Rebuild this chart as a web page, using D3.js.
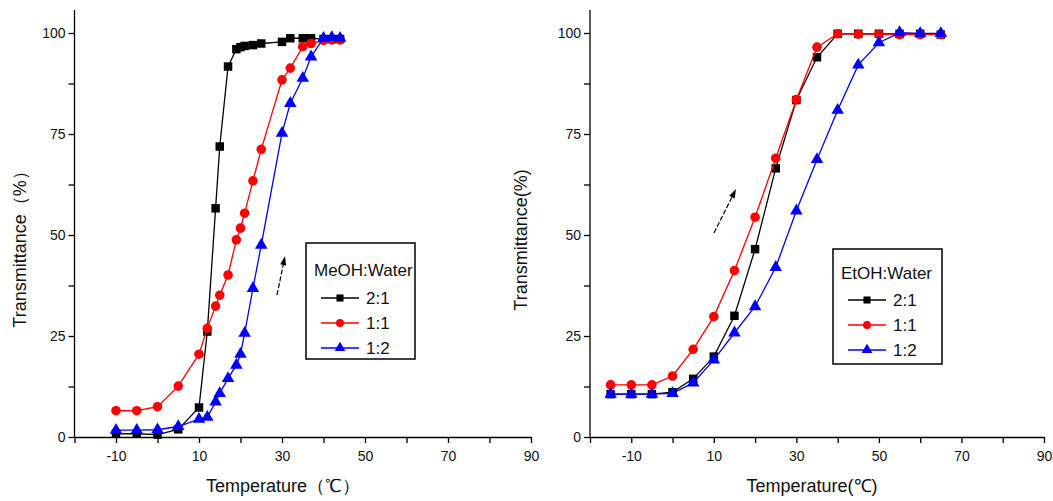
<!DOCTYPE html>
<html>
<head>
<meta charset="utf-8" />
<title>Transmittance vs Temperature</title>
<script src="https://cdn.jsdelivr.net/npm/d3@7"></script>
<style>
	body { margin: 0; background: #fff; }
	svg { display: block; font-family: 'Liberation Sans', Arial, sans-serif; }
	.tick text { font-family: 'Liberation Sans Narrow', 'Liberation Sans', Arial, sans-serif; font-size: 14px; fill: #111; }
	.domain, .tick line { stroke: #000; stroke-width: 1.3px; }
</style>
</head>
<body>
<script>
// left panel: MeOH:Water
var meohTemp = [-10, -5, 0, 5, 10, 12, 14, 15, 17, 19, 20, 21, 23, 25, 30, 32, 35, 37, 40, 42, 44];
var meoh21 = [0.8, 0.8, 0.6, 1.9, 7.3, 26.1, 56.6, 71.9, 91.7, 96.0, 96.5, 96.8, 97.0, 97.4, 97.8, 98.7, 98.7, 98.7, 98.5, 98.5, 98.5];
var meoh11 = [6.5, 6.5, 7.5, 12.6, 20.5, 26.9, 32.4, 35.1, 40.1, 48.8, 51.7, 55.4, 63.4, 71.2, 88.4, 91.3, 96.6, 97.4, 98.2, 98.3, 98.3];
var meoh12 = [1.7, 1.7, 1.8, 2.6, 4.4, 4.9, 8.7, 10.8, 14.5, 17.8, 20.5, 25.7, 36.8, 47.5, 75.2, 82.6, 88.8, 94.1, 98.7, 98.9, 98.7];

// right panel: EtOH:Water
var etohTemp = [-15, -10, -5, 0, 5, 10, 15, 20, 25, 30, 35, 40, 45, 50, 55, 60, 65];
var etoh21 = [10.6, 10.6, 10.6, 11.1, 14.4, 19.9, 30.0, 46.5, 66.5, 83.4, 94.0, 99.8, 99.8, 99.8, 99.8, 99.8, 99.6];
var etoh11 = [12.9, 12.9, 12.9, 15.1, 21.7, 29.8, 41.2, 54.4, 69.0, 83.5, 96.5, 99.8, 99.7, 99.7, 99.6, 99.6, 99.6];
var etoh12 = [10.6, 10.6, 10.6, 10.8, 13.4, 19.1, 25.8, 32.3, 42.0, 56.0, 68.7, 80.9, 92.1, 97.6, 100.1, 99.9, 99.9];

var seriesNames = ["2:1", "1:1", "1:2"];
var seriesColors = ["#000000", "#ff0000", "#0000ff"];
var seriesSymbols = [d3.symbolSquare, d3.symbolCircle, d3.symbolTriangle];
var xTickLabels = [-10, 10, 30, 50, 70, 90];
var yTickLabels = [0, 25, 50, 75, 100];

var W = 1053, H = 501;
var svg = d3.select("body").append("svg").attr("width", W).attr("height", H);

var y = d3.scaleLinear().domain([0, 100]).range([437, 33]);

function panel(opt) {
	var x = d3.scaleLinear().domain([-20, 90]).range([opt.x0, opt.x1]);
	var g = svg.append("g");

	// x axis
	var xa = g.append("g").attr("transform", "translate(0," + y(0) + ")")
		.call(d3.axisBottom(x).tickValues(d3.range(-20, 91, 10)).tickSize(6).tickSizeOuter(0)
			.tickFormat(function(d) { return xTickLabels.indexOf(d) >= 0 ? d : ""; }));
	xa.selectAll(".tick text").attr("dy", "1.05em");

	// y axis
	var ya = g.append("g").attr("transform", "translate(" + opt.x0 + ",0)")
		.call(d3.axisLeft(y).tickValues(d3.range(0, 101, 12.5)).tickSize(6).tickSizeOuter(0)
			.tickFormat(function(d) { return yTickLabels.indexOf(d) >= 0 ? d : ""; }));
	ya.select(".domain").attr("d", "M0," + y(0) + "V" + y(105.7));

	// axis titles
	g.append("text").attr("x", opt.xTitleX).attr("y", 492).attr("text-anchor", "middle")
		.style("font-size", "18px").attr("fill", "#111").text(opt.xTitle);
	g.append("text").attr("transform", "translate(" + opt.yTitleX + "," + opt.yTitleY + ") rotate(-90)")
		.attr("text-anchor", "middle").attr("dy", "0.35em")
		.style("font-size", "18px").attr("fill", "#111").text(opt.yTitle);

	// series
	opt.series.forEach(function(vals, i) {
		var pts = opt.temps.map(function(t, j) { return [t, vals[j]]; });
		var line = d3.line().x(function(d) { return x(d[0]); }).y(function(d) { return y(d[1]); });
		g.append("path").datum(pts).attr("d", line)
			.attr("fill", "none").attr("stroke", seriesColors[i]).attr("stroke-width", 1.3);
		g.selectAll(".m" + i).data(pts).enter().append("path")
			.attr("transform", function(d) { return "translate(" + x(d[0]) + "," + y(d[1]) + ")"; })
			.attr("d", d3.symbol().type(seriesSymbols[i]).size(i == 2 ? 68 : 72))
			.attr("fill", seriesColors[i]);
	});

	// legend
	var lg = g.append("g").attr("transform", "translate(" + opt.legX + "," + opt.legY + ")");
	lg.append("rect").attr("width", opt.legW).attr("height", opt.legH)
		.attr("fill", "#fff").attr("stroke", "#000").attr("stroke-width", 1.5);
	lg.append("text").attr("x", 8).attr("y", opt.legTitleY).style("font-size", "17px").attr("fill", "#111")
		.text(opt.legTitle);
	seriesNames.forEach(function(n, i) {
		var yy = opt.legRow0 + i * 25;
		lg.append("line").attr("x1", 15).attr("x2", 53).attr("y1", yy).attr("y2", yy)
			.attr("stroke", seriesColors[i]).attr("stroke-width", 1.5);
		lg.append("path").attr("transform", "translate(34," + yy + ")")
			.attr("d", d3.symbol().type(seriesSymbols[i]).size(50)).attr("fill", seriesColors[i]);
		lg.append("text").attr("x", 60).attr("y", yy + 6).style("font-size", "17px").attr("fill", "#111")
			.text(n);
	});

	// arrow
	var a = opt.arrow;
	var ang = Math.atan2(a[3] - a[1], a[2] - a[0]);
	g.append("line").attr("x1", a[0]).attr("y1", a[1])
		.attr("x2", a[2] - 6 * Math.cos(ang)).attr("y2", a[3] - 6 * Math.sin(ang))
		.attr("stroke", "#000").attr("stroke-width", 1.2).attr("stroke-dasharray", "5,2");
	var hx = a[2], hy = a[3], L = 9, Wd = 3;
	var bx = hx - L * Math.cos(ang), by = hy - L * Math.sin(ang);
	g.append("path").attr("d", "M" + hx + "," + hy +
		"L" + (bx + Wd * Math.sin(ang)) + "," + (by - Wd * Math.cos(ang)) +
		"L" + (bx - Wd * Math.sin(ang)) + "," + (by + Wd * Math.cos(ang)) + "Z").attr("fill", "#000");
}

panel({
	x0: 74.5, x1: 531, temps: meohTemp, series: [meoh21, meoh11, meoh12],
	xTitle: "Temperature（℃）", xTitleX: 283, yTitle: "Transmittance（%）", yTitleX: 20, yTitleY: 245,
	legX: 306, legY: 243, legW: 109, legH: 116, legTitle: "MeOH:Water", legTitleY: 33, legRow0: 55,
	arrow: [277, 295, 285, 256]
});
panel({
	x0: 590, x1: 1044, temps: etohTemp, series: [etoh21, etoh11, etoh12],
	xTitle: "Temperature(℃)", xTitleX: 812, yTitle: "Transmittance(%)", yTitleX: 521, yTitleY: 240,
	legX: 833, legY: 249, legW: 109, legH: 115, legTitle: "EtOH:Water", legTitleY: 30, legRow0: 51,
	arrow: [714, 233, 736, 189]
});
</script>
</body>
</html>
